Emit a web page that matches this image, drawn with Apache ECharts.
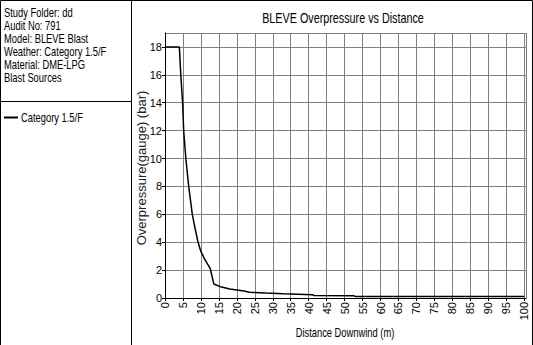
<!DOCTYPE html>
<html>
<head>
<meta charset="utf-8">
<script src="https://cdn.jsdelivr.net/npm/echarts@6/dist/echarts.min.js"></script>
<style>
  html, body { margin: 0; padding: 0; background: #fff; }
  #chart { width: 533px; height: 345px; }
</style>
</head>
<body>
<div id="chart"></div>
<script>
// 报告信息
var infoLines = ['Study Folder: dd', 'Audit No: 791', 'Model: BLEVE Blast',
    'Weather: Category 1.5/F', 'Material: DME-LPG', 'Blast Sources'];
var seriesName = 'Category 1.5/F';
var chartTitle = 'BLEVE Overpressure vs Distance';
var xName = 'Distance Downwind (m)';
var yName = 'Overpressure(gauge) (bar)';

// 距离 (m) 和 超压 (bar)
var distance = [0, 4, 4.4, 4.9, 5.2, 5.8, 6.6, 7.6, 8.2, 9.2, 9.9, 11, 12.6, 13.6,
    15.5, 18, 20, 22, 23.5, 28, 33, 41, 41.5, 52.5, 53, 100];
var pressure = [18, 18, 16, 14, 12, 10, 8, 6, 5.2, 4, 3.4, 2.8, 2.1, 1.0,
    0.8, 0.65, 0.57, 0.5, 0.42, 0.36, 0.3, 0.24, 0.18, 0.17, 0.1, 0.1];

var points = distance.map(function (d, i) { return [d, pressure[i]]; });

var font = '"Liberation Sans", Arial, sans-serif';

// 窄字体效果：用 scaleX 压缩文字
function narrowText(str, x, y, size, sx, align) {
    return {
        type: 'text', x: x, y: y, scaleX: sx, originX: 0,
        style: { text: str, fill: '#000', font: size + 'px ' + font,
                 align: align || 'left', verticalAlign: 'middle' }
    };
}

var graphics = [
    // 外框
    { type: 'polyline', shape: { points: [[0.5, 345], [0.5, 0.5], [532.5, 0.5], [532.5, 345]] },
      style: { stroke: '#000', lineWidth: 1, fill: null } },
    { type: 'line', shape: { x1: 131.5, y1: 0, x2: 131.5, y2: 345 },
      style: { stroke: '#000', lineWidth: 1 } },
    { type: 'line', shape: { x1: 0, y1: 101.5, x2: 131, y2: 101.5 },
      style: { stroke: '#000', lineWidth: 1 } },
    // 图例
    { type: 'line', shape: { x1: 4, y1: 117.5, x2: 18, y2: 117.5 },
      style: { stroke: '#000', lineWidth: 2 } },
    narrowText(seriesName, 21, 118, 12, 0.78),
    // 标题和坐标轴名称
    narrowText(chartTitle, 343, 19, 14, 0.77, 'center'),
    narrowText(xName, 345, 333, 12, 0.78, 'center'),
    { type: 'text', x: 141, y: 168, rotation: Math.PI / 2,
      style: { text: yName, fill: '#222', font: '13px ' + font,
               align: 'center', verticalAlign: 'middle' } }
];
infoLines.forEach(function (t, i) {
    graphics.push(narrowText(t, 4, 13 + i * 13, 12, 0.78));
});

var chart = echarts.init(document.getElementById('chart'), null, { renderer: 'svg' });
chart.setOption({
    animation: false,
    backgroundColor: '#fff',
    graphic: graphics,
    grid: { left: 165, right: 7, top: 33, bottom: 47 },
    xAxis: {
        type: 'value', min: 0, max: 100.5, interval: 5,
        axisLine: { lineStyle: { color: '#000' } },
        axisTick: { show: true, length: 3, lineStyle: { color: '#000' } },
        axisLabel: { rotate: 90, fontFamily: font, fontSize: 11, color: '#000', margin: 4, showMaxLabel: false },
        splitLine: { lineStyle: { color: '#808080', width: 1 } }
    },
    yAxis: {
        type: 'value', min: 0, max: 19, interval: 2,
        axisLine: { show: true, lineStyle: { color: '#000' } },
        axisTick: { show: true, length: 3, lineStyle: { color: '#000' } },
        axisLabel: { fontFamily: font, fontSize: 11, color: '#000', margin: 3, showMaxLabel: false },
        splitLine: { lineStyle: { color: '#808080', width: 1 } }
    },
    series: [{
        name: seriesName,
        type: 'line',
        data: points,
        showSymbol: false,
        color: '#000',
        lineStyle: { color: '#000', width: 1.5 }
    }]
});
</script>
</body>
</html>
